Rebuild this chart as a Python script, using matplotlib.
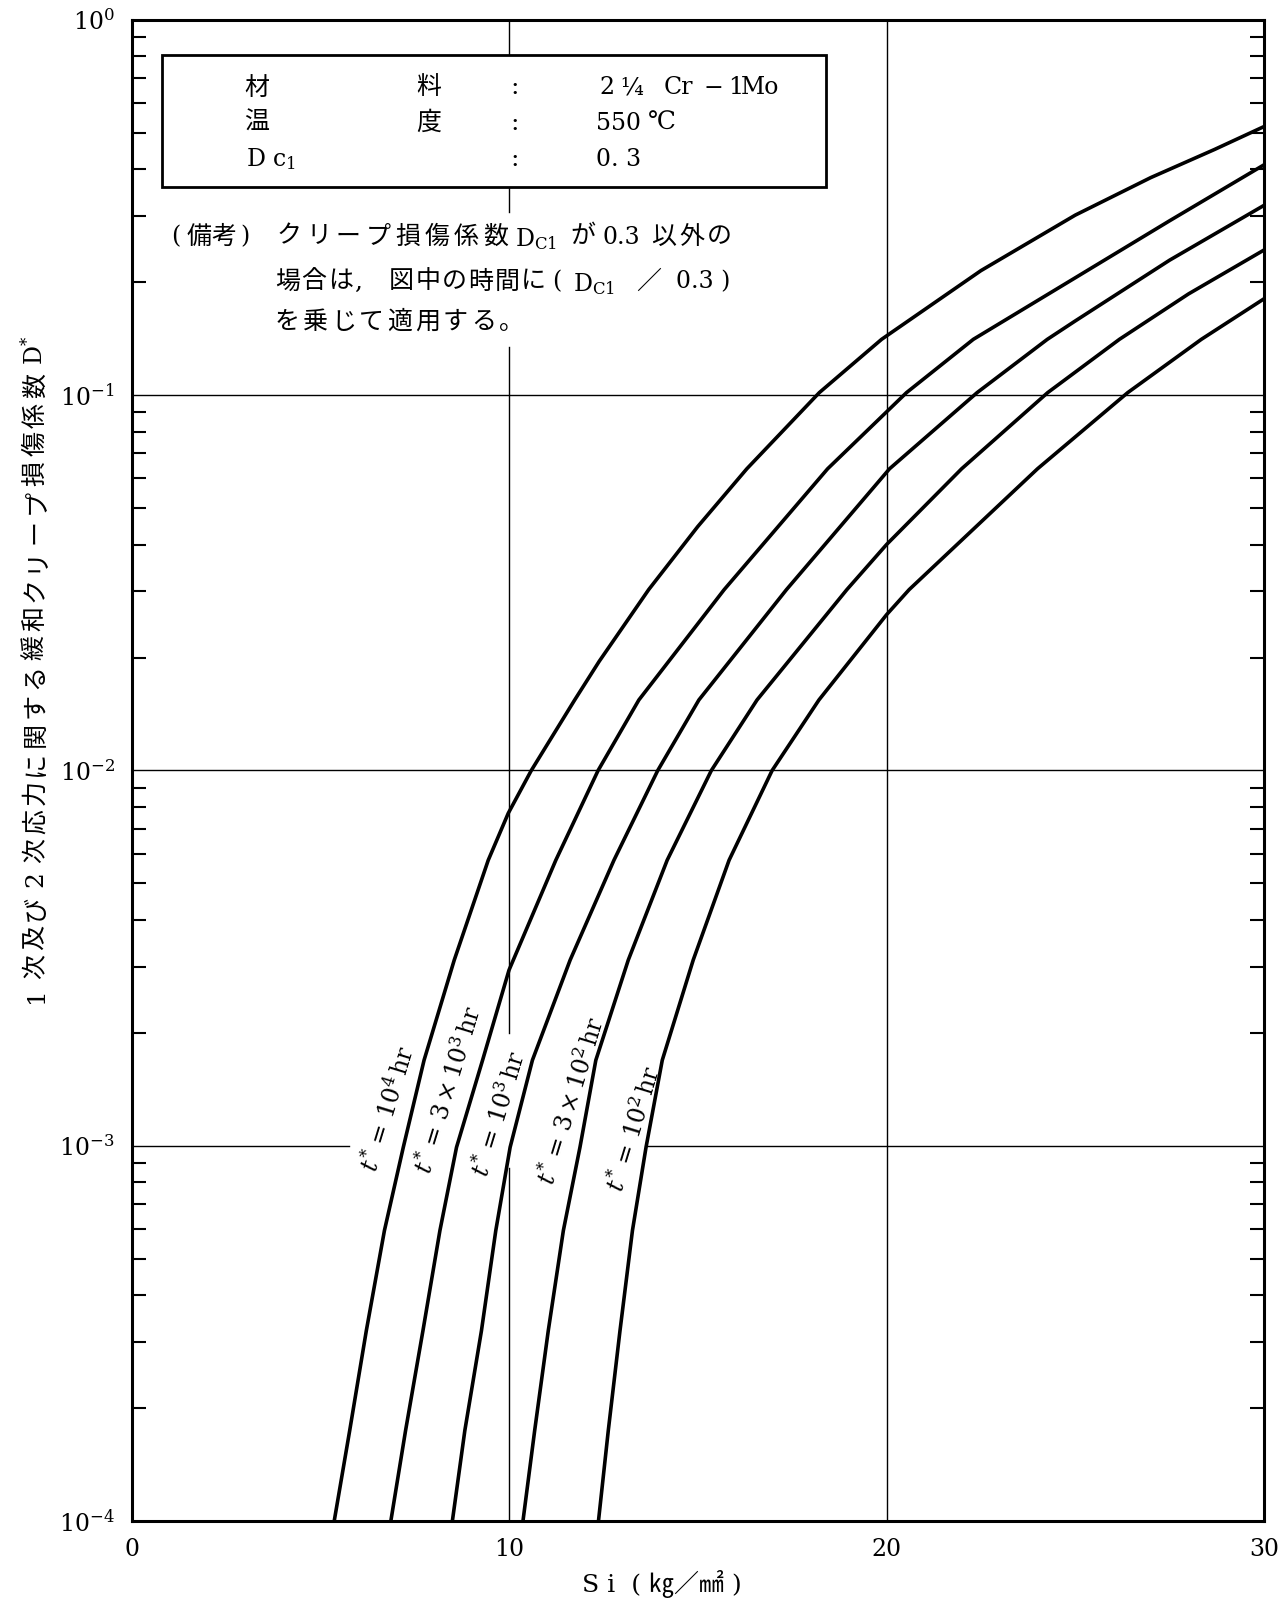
import matplotlib
matplotlib.use("Agg")
import matplotlib.pyplot as plt
import numpy as np
from matplotlib.patches import Rectangle
from matplotlib.ticker import LogLocator, NullFormatter

plt.rcParams["font.family"] = ["DejaVu Serif", "Noto Sans CJK JP", "DejaVu Sans"]
plt.rcParams["mathtext.fontset"] = "dejavuserif"

# --- data: stress Si (kg/mm2) vs log10 of D* ---
si_1e4 = [5.37, 5.78, 6.22, 6.70, 7.20, 7.75, 8.55, 9.45, 9.98, 10.59, 11.74,
          12.39, 13.7, 15.0, 16.3, 18.22, 19.87, 22.5, 25.0, 27.0, 28.69, 30.0]
logd_1e4 = [-4.0, -3.759, -3.493, -3.226, -3.004, -2.772, -2.505, -2.239, -2.114,
            -2.0, -1.812, -1.709, -1.518, -1.35, -1.196, -0.993, -0.851, -0.668,
            -0.52, -0.42, -0.345, -0.284]

si_3e3 = [6.87, 7.26, 7.72, 8.17, 8.61, 9.30, 10.0, 11.24, 12.36, 13.44, 15.7,
          18.44, 20.53, 22.30, 25.0, 27.5, 30.0]
logd_3e3 = [-4.0, -3.759, -3.493, -3.226, -3.004, -2.772, -2.532, -2.239, -2.0,
            -1.812, -1.518, -1.196, -0.993, -0.851, -0.687, -0.535, -0.386]

si_1e3 = [8.5, 8.83, 9.27, 9.65, 10.03, 10.62, 11.62, 12.78, 13.94, 15.03, 17.35,
          20.08, 22.40, 24.26, 25.0, 27.5, 30.0]
logd_1e3 = [-4.0, -3.759, -3.493, -3.226, -3.004, -2.772, -2.505, -2.239, -2.0,
            -1.812, -1.518, -1.196, -0.993, -0.851, -0.802, -0.64, -0.494]

si_3e2 = [10.37, 10.68, 11.04, 11.44, 11.88, 12.30, 13.16, 14.19, 15.36, 16.57,
          18.95, 20.0, 21.99, 24.27, 26.17, 28.0, 30.0]
logd_3e2 = [-4.0, -3.759, -3.493, -3.226, -3.004, -2.772, -2.505, -2.239, -2.0,
            -1.812, -1.518, -1.398, -1.196, -0.993, -0.851, -0.73, -0.613]

si_1e2 = [12.37, 12.63, 12.94, 13.27, 13.63, 14.06, 14.88, 15.83, 16.97, 18.21,
          20.0, 20.6, 24.0, 26.39, 28.34, 30.0]
logd_1e2 = [-4.0, -3.759, -3.493, -3.226, -3.004, -2.772, -2.505, -2.239, -2.0,
            -1.812, -1.585, -1.518, -1.196, -0.993, -0.851, -0.743]

curve_labels = [r"$t^{*}\,=\,10^{4}\,\mathrm{hr}$",
                r"$t^{*}\,=\,3\times10^{3}\,\mathrm{hr}$",
                r"$t^{*}\,=\,10^{3}\,\mathrm{hr}$",
                r"$t^{*}\,=\,3\times10^{2}\,\mathrm{hr}$",
                r"$t^{*}\,=\,10^{2}\,\mathrm{hr}$"]
xticks = [0, 10, 20, 30]
ytick_exp = [-4, -3, -2, -1, 0]

# --- layout ---
W, H = 1283, 1601
fig = plt.figure(figsize=(W / 100, H / 100), dpi=100)
ax = fig.add_axes([131.5 / W, 1 - 1521 / H, (1264 - 131.5) / W, (1521 - 20) / H])

series = [(si_1e4, logd_1e4), (si_3e3, logd_3e3), (si_1e3, logd_1e3),
          (si_3e2, logd_3e2), (si_1e2, logd_1e2)]
for s, ld in series:
    ax.plot(s, 10.0 ** np.array(ld), color="black", lw=2.6, zorder=3,
            solid_joinstyle="round")

ax.set_yscale("log")
ax.set_xlim(0, 30)
ax.set_ylim(1e-4, 1)

# grid lines (some broken around the labels, as in the original)
gl = dict(color="black", lw=1.0, zorder=2)
ax.axhline(1e-1, **gl)
ax.axhline(1e-2, **gl)
ax.plot([0, 5.75], [1e-3, 1e-3], **gl)
ax.plot([13.63, 30], [1e-3, 1e-3], **gl)
ax.axvline(20, **gl)
for lo, hi in [(-4, -3.06), (-2.70, -0.872), (-0.512, 0)]:
    ax.plot([10, 10], [10.0 ** lo, 10.0 ** hi], **gl)

# curve labels
lab_x = [6.80, 8.40, 9.74, 11.66, 13.30]
lab_logy = [-2.90, -2.85, -2.915, -2.88, -2.955]
for t, lx, ly in zip(curve_labels, lab_x, lab_logy):
    ax.text(lx, 10.0 ** ly, t, rotation=73, ha="center", va="center",
            rotation_mode="anchor", fontsize=17, zorder=4)

# ticks
ax.set_xticks(xticks)
ax.set_xticklabels([str(v) for v in xticks], fontsize=17)
ax.set_yticks([10.0 ** e for e in ytick_exp])
ax.set_yticklabels([r"$10^{%d}$" % e for e in ytick_exp], fontsize=17)
ax.yaxis.set_minor_locator(LogLocator(base=10, subs=np.arange(2, 10)))
ax.yaxis.set_minor_formatter(NullFormatter())
ax.tick_params(axis="x", length=0, pad=12)
ax.tick_params(axis="y", which="major", length=0, pad=12)
ax.tick_params(axis="y", which="minor", direction="in", length=10, width=1.5,
               left=True, right=True)
for sp in ax.spines.values():
    sp.set_linewidth(2.2)


def ftext(x, y, s, **kw):
    kw.setdefault("ha", "left")
    kw.setdefault("va", "center")
    kw.setdefault("fontsize", 18)
    return fig.text(x / W, 1 - y / H, s, zorder=7, **kw)


def spaced(x, y, s, pitch, **kw):
    for i, ch in enumerate(s):
        ftext(x + i * pitch, y, ch, **kw)


# info box
fig.patches.append(Rectangle((162 / W, 1 - 187 / H), (826 - 162) / W, (187 - 55) / H,
                             transform=fig.transFigure, facecolor="white",
                             edgecolor="black", lw=2.0, zorder=6))
rows = [88, 123, 159]
ftext(244, rows[0], "材")
ftext(416, rows[0], "料")
ftext(244, rows[1], "温")
ftext(416, rows[1], "度")
ftext(246, rows[2], r"D c$_{1}$", fontsize=17)
for r in rows:
    ftext(515, r, ":", ha="center", fontsize=18)
for s, x in [("2", 599), ("¼", 620), ("Cr", 664), ("−", 703), ("1", 728), ("Mo", 741)]:
    ftext(x, rows[0], s, fontsize=17)
ftext(596, rows[1], "550", fontsize=17)
ftext(648, rows[1], "℃", fontsize=18)
ftext(596, rows[2], "0. 3", fontsize=17)

# note text
ftext(171, 237, "(", fontsize=17)
spaced(187, 237, "備考", 24)
ftext(240, 237, ")", fontsize=17)
spaced(277, 237, "クリープ損傷係数", 29.5)
ftext(515, 239, r"D$_{\mathrm{C1}}$", fontsize=17)
ftext(570, 237, "が")
ftext(602, 237, "0.3", fontsize=17)
spaced(651, 237, "以外の", 28)

spaced(275, 282, "場合は,", 26.5)
spaced(389, 282, "図中の時間に", 26.4)
ftext(552, 282, "(", fontsize=17)
ftext(573, 284, r"D$_{\mathrm{C1}}$", fontsize=17)
ftext(636, 282, "／")
ftext(676, 282, "0.3 )", fontsize=17)
spaced(275, 322, "を乗じて適用する。", 28)

# axis labels
ftext(662, 1584, "S i  ( ㎏／㎟ )", ha="center", fontsize=18)
ylab = "1次及び2次応力に関する緩和クリープ損傷係数"
for i, ch in enumerate(ylab):
    ftext(36, 995 - i * 29, ch, ha="center", rotation=90)
ftext(34, 350, r"D$^{*}$", ha="center", rotation=90, fontsize=17)

fig.savefig("out.png", dpi=100)
